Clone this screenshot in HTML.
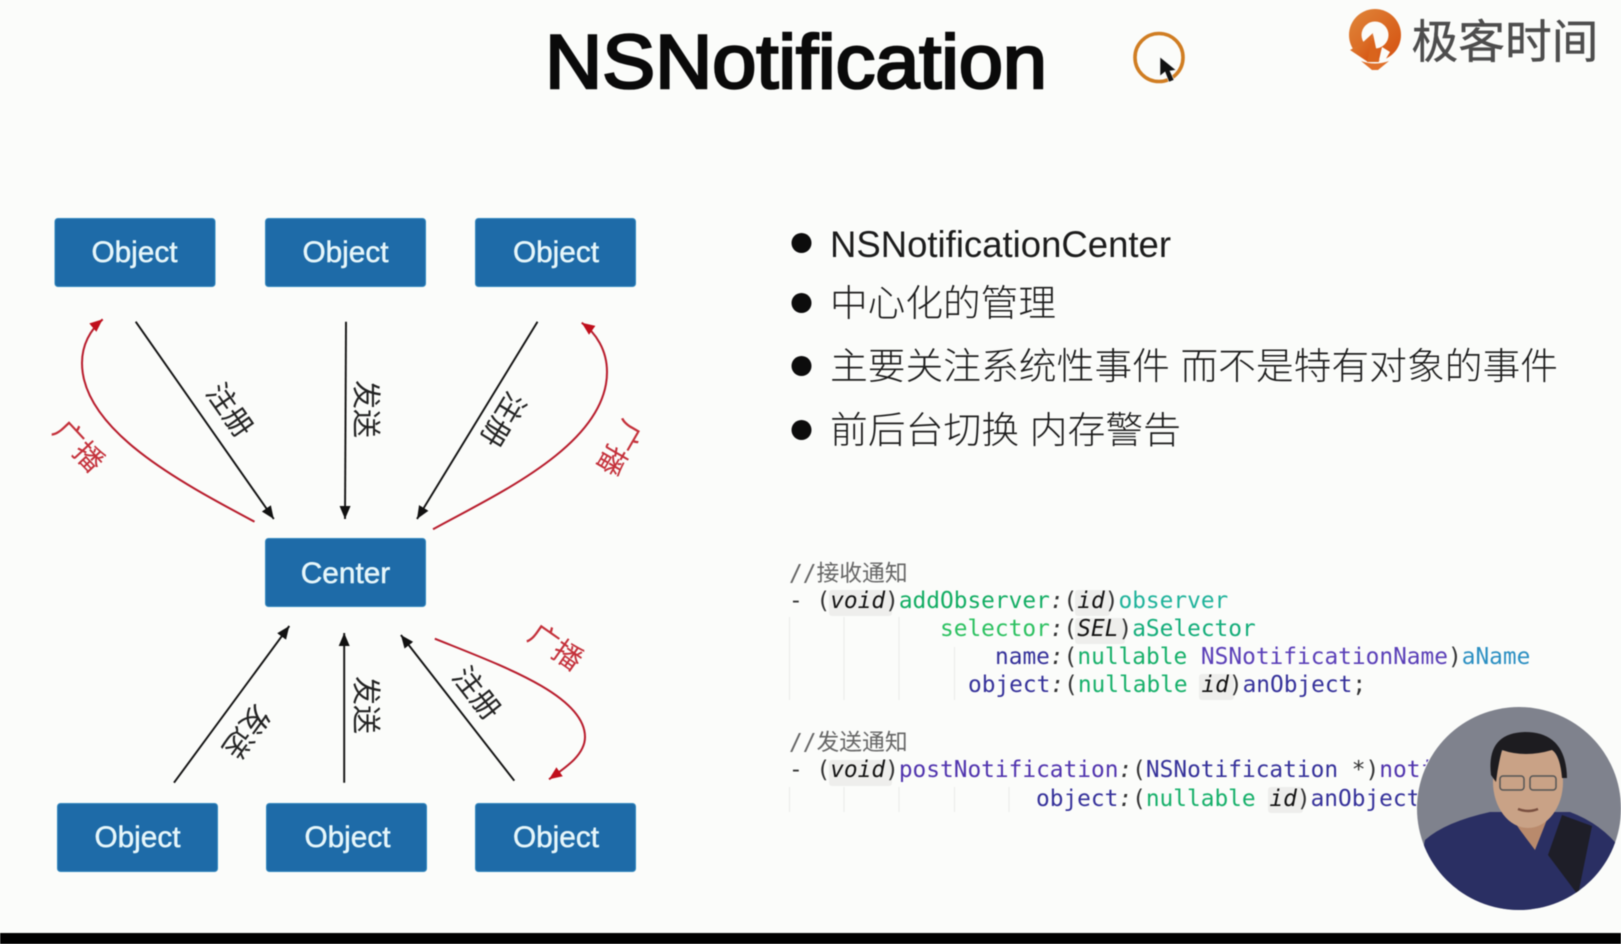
<!DOCTYPE html>
<html><head><meta charset="utf-8"><style>
html,body{margin:0;padding:0;background:#fbfcfa;width:1621px;height:944px;overflow:hidden}
svg{display:block;filter:blur(.45px)}
.cjk{font-family:"Liberation Sans","Noto Sans CJK SC",sans-serif}
.bx{fill:#1e6ba8;stroke:#2f86bd;stroke-width:1}
.bt{font-family:"Liberation Sans",sans-serif;font-size:29.8px;fill:#e6f6fa;text-anchor:middle;stroke:#e6f6fa;stroke-width:.5}
.lb{font-family:"Liberation Sans","Noto Sans CJK SC",sans-serif;font-size:29px;text-anchor:middle;dominant-baseline:central;fill:#222}
.rd{fill:#c4303a}
.bl{font-family:"Liberation Sans","Noto Sans CJK SC",sans-serif;font-size:37px;fill:#1c1c1c;font-weight:300}
.cd{font-family:"DejaVu Sans Mono","Noto Sans CJK SC",monospace;font-size:22.8px;white-space:pre}
.g{stroke:#ececea;stroke-width:1.2}
.t{fill:#111;font-style:italic}
</style></head><body>
<svg width="1621" height="944" viewBox="0 0 1621 944" xmlns="http://www.w3.org/2000/svg">
<defs>
<marker id="ab" markerUnits="userSpaceOnUse" markerWidth="15" markerHeight="13" refX="13" refY="5.5" orient="auto"><path d="M0 0L13 5.5L0 11Z" fill="#111"/></marker>
<marker id="ar" markerUnits="userSpaceOnUse" markerWidth="15" markerHeight="13" refX="13" refY="5.5" orient="auto"><path d="M0 0L13 5.5L0 11Z" fill="#c00f1c"/></marker>
<clipPath id="av"><ellipse cx="1519" cy="808.5" rx="102" ry="101.5"/></clipPath>
<linearGradient id="lg" x1="0" y1="0" x2="1" y2="1"><stop offset="0" stop-color="#e0863a"/><stop offset="1" stop-color="#d5500f"/></linearGradient>
</defs>
<rect width="1621" height="944" fill="#fbfcfa"/>
<rect y="933" width="1621" height="11" fill="#000"/>

<text x="545" y="88" font-family="'Liberation Sans',sans-serif" font-size="76" fill="#0a0a0a" stroke="#0a0a0a" stroke-width="2.6" textLength="502" lengthAdjust="spacingAndGlyphs">NSNotification</text>

<circle cx="1159" cy="57.5" r="24" fill="none" stroke="#d07d22" stroke-width="3.6"/>
<path d="M1160 57L1160 76L1165 72L1169 82L1174 80L1170 71L1176 70Z" fill="#111" stroke="#eee" stroke-width=".6"/>

<circle cx="1375" cy="35" r="26" fill="url(#lg)"/>
<circle cx="1375" cy="35" r="13.5" fill="#fbfcfa"/>
<path d="M1373 33L1368 62L1350 50L1361 44Z" fill="url(#lg)"/>
<path d="M1373 34L1379 62L1367 62Z" fill="#d9641c"/>
<path d="M1382 47L1390 52L1384 62L1379 60Z" fill="#fbfcfa"/>
<path d="M1361 61Q1375 66 1389 61L1378 70L1372 70Z" fill="#e0702a"/>
<text x="1411.5" y="58" class="cjk" font-size="46" fill="#4d4d4d" stroke="#4d4d4d" stroke-width=".4" textLength="187" lengthAdjust="spacingAndGlyphs">极客时间</text>

<rect class="bx" x="55" y="218.5" width="160" height="68" rx="3"/>
<rect class="bx" x="265.5" y="218.5" width="160" height="68" rx="3"/>
<rect class="bx" x="475.5" y="218.5" width="160" height="68" rx="3"/>
<rect class="bx" x="265.5" y="538.5" width="160" height="68" rx="3"/>
<rect class="bx" x="57.5" y="803.5" width="160" height="68" rx="3"/>
<rect class="bx" x="266.5" y="803.5" width="160" height="68" rx="3"/>
<rect class="bx" x="475.5" y="803.5" width="160" height="68" rx="3"/>
<text class="bt" x="134.5" y="262">Object</text>
<text class="bt" x="345.5" y="262">Object</text>
<text class="bt" x="556" y="262">Object</text>
<text class="bt" x="345.5" y="583">Center</text>
<text class="bt" x="137.5" y="847">Object</text>
<text class="bt" x="347.5" y="847">Object</text>
<text class="bt" x="556" y="847">Object</text>

<g stroke="#111" stroke-width="1.9" fill="none">
<line x1="135.7" y1="321.7" x2="273.8" y2="519" marker-end="url(#ab)"/>
<line x1="346" y1="321.7" x2="345" y2="519" marker-end="url(#ab)"/>
<line x1="537.5" y1="321.7" x2="417" y2="519" marker-end="url(#ab)"/>
<line x1="174" y1="782.7" x2="289.3" y2="626" marker-end="url(#ab)"/>
<line x1="344.2" y1="782.7" x2="344.2" y2="633" marker-end="url(#ab)"/>
<line x1="514.3" y1="780.7" x2="400.9" y2="635" marker-end="url(#ab)"/>
</g>
<g stroke="#b81c2c" stroke-width="2" fill="none">
<path d="M254.5 521.7C180 482 82 430 82 363C82 345 90 330 102.7 319.3" marker-end="url(#ar)"/>
<path d="M433 529.3C495 495 607 445 607 372C607 350 596 333 581.7 322.7" marker-end="url(#ar)"/>
<path d="M434.8 638.7C500 665 585 695 585 737C585 755 565 768 549 779.3" marker-end="url(#ar)"/>
</g>

<text class="lb" transform="translate(229 411) rotate(55)">注册</text>
<text class="lb" transform="translate(365 409) rotate(90)">发送</text>
<text class="lb" transform="translate(502 419) rotate(121)">注册</text>
<text class="lb rd" transform="translate(78 447) rotate(47)">广播</text>
<text class="lb rd" transform="translate(618 447) rotate(120)">广播</text>
<text class="lb" transform="translate(245.5 731) rotate(126)">发送</text>
<text class="lb" transform="translate(365 705) rotate(90)">发送</text>
<text class="lb" transform="translate(476 694) rotate(52)">注册</text>
<text class="lb rd" transform="translate(555 648) rotate(35)">广播</text>

<g fill="#0c0c0c">
<circle cx="801.5" cy="243" r="10"/><circle cx="801.5" cy="303" r="10"/><circle cx="801.5" cy="366" r="10"/><circle cx="801.5" cy="430" r="10"/>
</g>
<text class="bl" x="830" y="257" textLength="341" lengthAdjust="spacingAndGlyphs">NSNotificationCenter</text>
<text class="bl" x="830" y="316" textLength="226" lengthAdjust="spacingAndGlyphs">中心化的管理</text>
<text class="bl" x="830" y="379" textLength="728" lengthAdjust="spacingAndGlyphs">主要关注系统性事件 而不是特有对象的事件</text>
<text class="bl" x="830" y="443" textLength="351" lengthAdjust="spacingAndGlyphs">前后台切换 内存警告</text>

<g class="g">
<line x1="789.5" y1="617" x2="789.5" y2="700"/><line x1="844" y1="617" x2="844" y2="700"/><line x1="899" y1="617" x2="899" y2="700"/><line x1="954.5" y1="647" x2="954.5" y2="700"/>
<line x1="789.5" y1="787" x2="789.5" y2="812"/><line x1="844" y1="787" x2="844" y2="812"/><line x1="899" y1="787" x2="899" y2="812"/><line x1="954.5" y1="787" x2="954.5" y2="812"/><line x1="1009" y1="787" x2="1009" y2="812"/>
</g>
<g fill="#eeeeec">
<rect x="829" y="590" width="63" height="26" rx="3"/><rect x="1075" y="590" width="35" height="26" rx="3"/>
<rect x="1075" y="618" width="50" height="26" rx="3"/><rect x="1199" y="674" width="35" height="26" rx="3"/>
<rect x="829" y="760" width="63" height="26" rx="3"/><rect x="1268" y="787" width="35" height="26" rx="3"/>
</g>
<text x="789" y="581" fill="#666" class="cd">//接收通知</text>
<text x="789" y="608" class="cd"><tspan fill="#333">- (</tspan><tspan class="t">void</tspan><tspan fill="#333">)</tspan><tspan fill="#12ad63">addObserver</tspan><tspan fill="#333" font-style="italic">:</tspan><tspan fill="#333">(</tspan><tspan class="t">id</tspan><tspan fill="#333">)</tspan><tspan fill="#1fb39b">observer</tspan></text>
<text x="940" y="636" class="cd"><tspan fill="#2cc160">selector</tspan><tspan fill="#333" font-style="italic">:</tspan><tspan fill="#333">(</tspan><tspan class="t">SEL</tspan><tspan fill="#333">)</tspan><tspan fill="#14ad7a">aSelector</tspan></text>
<text x="995" y="664" class="cd"><tspan fill="#35319a">name</tspan><tspan fill="#333" font-style="italic">:</tspan><tspan fill="#333">(</tspan><tspan fill="#16b06a">nullable</tspan><tspan> </tspan><tspan fill="#5a3fb8">NSNotificationName</tspan><tspan fill="#333">)</tspan><tspan fill="#2b8fc2">aName</tspan></text>
<text x="968" y="692" class="cd"><tspan fill="#35319a">object</tspan><tspan fill="#333" font-style="italic">:</tspan><tspan fill="#333">(</tspan><tspan fill="#16b06a">nullable</tspan><tspan> </tspan><tspan class="t">id</tspan><tspan fill="#333">)</tspan><tspan fill="#35319a">anObject</tspan><tspan fill="#333">;</tspan></text>
<text x="789" y="750" fill="#666" class="cd">//发送通知</text>
<text x="789" y="777" class="cd"><tspan fill="#333">- (</tspan><tspan class="t">void</tspan><tspan fill="#333">)</tspan><tspan fill="#5034ae">postNotification</tspan><tspan fill="#333" font-style="italic">:</tspan><tspan fill="#333">(</tspan><tspan fill="#35319a">NSNotification</tspan><tspan fill="#333"> *)</tspan><tspan fill="#5034ae">notification</tspan></text>
<text x="1036" y="806" class="cd"><tspan fill="#35319a">object</tspan><tspan fill="#333" font-style="italic">:</tspan><tspan fill="#333">(</tspan><tspan fill="#16b06a">nullable</tspan><tspan> </tspan><tspan class="t">id</tspan><tspan fill="#333">)</tspan><tspan fill="#35319a">anObject;</tspan></text>

<ellipse cx="1519" cy="808.5" rx="103" ry="102.5" fill="#fbfcfa"/>
<g clip-path="url(#av)">
<rect x="1410" y="700" width="215" height="215" fill="#7f828d"/>
<path d="M1425 840Q1445 822 1490 812L1570 812Q1605 825 1625 855L1625 915L1410 915Z" fill="#2a2f63"/>
<path d="M1562 815L1592 826L1578 895L1548 855Z" fill="#1e1e28"/>
<path d="M1508 812L1550 812L1535 850L1520 830Z" fill="#b98a6c"/>
<ellipse cx="1528" cy="782" rx="35" ry="46" fill="#c9a286"/>
<path d="M1491 775Q1486 733 1525 732Q1566 732 1567 778L1562 778Q1560 755 1552 750Q1525 758 1502 750Q1498 765 1496 782Z" fill="#1d1c20"/>
<rect x="1500" y="776" width="24" height="14" rx="3" fill="none" stroke="#555" stroke-width="1.5"/>
<rect x="1530" y="776" width="26" height="14" rx="3" fill="none" stroke="#555" stroke-width="1.5"/>
<path d="M1518 809Q1528 813 1538 809" stroke="#7a5040" stroke-width="2.5" fill="none"/>
</g>
</svg>
</body></html>
